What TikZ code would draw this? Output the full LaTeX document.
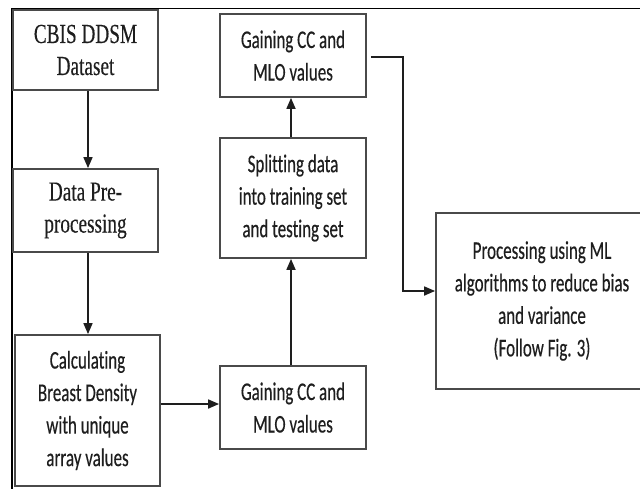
\documentclass[tikz,border=0pt]{standalone}
\usepackage{fontspec}
\usetikzlibrary{arrows.meta}
\newfontfamily\boxserif[FakeStretch=0.70,FakeBold=0.3]{Liberation Serif}
\newfontfamily\boxsans[FakeStretch=0.665,FakeBold=0.35,Ligatures=NoCommon]{Carlito}
\definecolor{edge}{HTML}{4A4A4A}
\definecolor{ink}{HTML}{1E1E1E}
\begin{document}
\begin{tikzpicture}[x=1pt,y=-1pt,
  stepbox/.style={draw=edge,line width=1.8pt,rectangle,inner sep=2pt,
    align=center,text=ink},
  serifbox/.style={stepbox,font=\boxserif\fontsize{27.5}{32}\selectfont},
  sansbox/.style={stepbox,font=\boxsans\fontsize{25.5}{32.5}\selectfont},
  link/.style={draw=ink,line width=1.7pt,-{Triangle[length=11pt,width=9pt]}}]
\useasboundingbox (0,0) rectangle (640,488);
\clip (0,0) rectangle (640,488);
% outer frame
\draw[line width=1.6pt,black] (12,489) -- (12,8.5) -- (641,8.5);
% process steps
\node[serifbox,minimum width=145pt,minimum height=80pt] (dataset) at (85.5,50) {CBIS DDSM\\Dataset};
\node[serifbox,minimum width=145pt,minimum height=83pt] (prep) at (85.5,210.5) {Data Pre-\\processing};
\node[sansbox,minimum width=145pt,minimum height=151pt] (density) at (87.5,410.5) {Calculating\\Breast Density\\with unique\\array values};
\node[sansbox,minimum width=146pt,minimum height=83pt] (gainlow) at (293,407.5) {Gaining CC and\\MLO values};
\node[sansbox,minimum width=146pt,minimum height=120pt] (split) at (293,198) {Splitting data\\into training set\\and testing set};
\node[sansbox,minimum width=146pt,minimum height=83pt] (gainup) at (293,55.5) {Gaining CC and\\MLO values};
\node[sansbox,minimum width=212pt,minimum height=176pt] (ml) at (542,301) {Processing using ML\\algorithms to reduce bias\\and variance\\(Follow Fig. 3)};
% connectors
\coordinate (bend) at (403,291);
\draw[link] ([xshift=2.5pt]dataset.south) -- ([xshift=2.5pt]prep.north);
\draw[link] ([xshift=2.5pt]prep.south) -- ([xshift=0.5pt]density.north);
\draw[link] ([yshift=6.5pt]density.east) -- ([yshift=6.5pt]density.east -| gainlow.west);
\draw[link] ([xshift=-2pt]gainlow.north) -- ([xshift=-2pt]split.south);
\draw[link] ([xshift=-2pt]split.north) -- ([xshift=-2pt]gainup.south);
\draw[link] ([xshift=4pt,yshift=-1.5pt]gainup.east) -| (bend) -- (bend -| ml.west);
\end{tikzpicture}
\end{document}
